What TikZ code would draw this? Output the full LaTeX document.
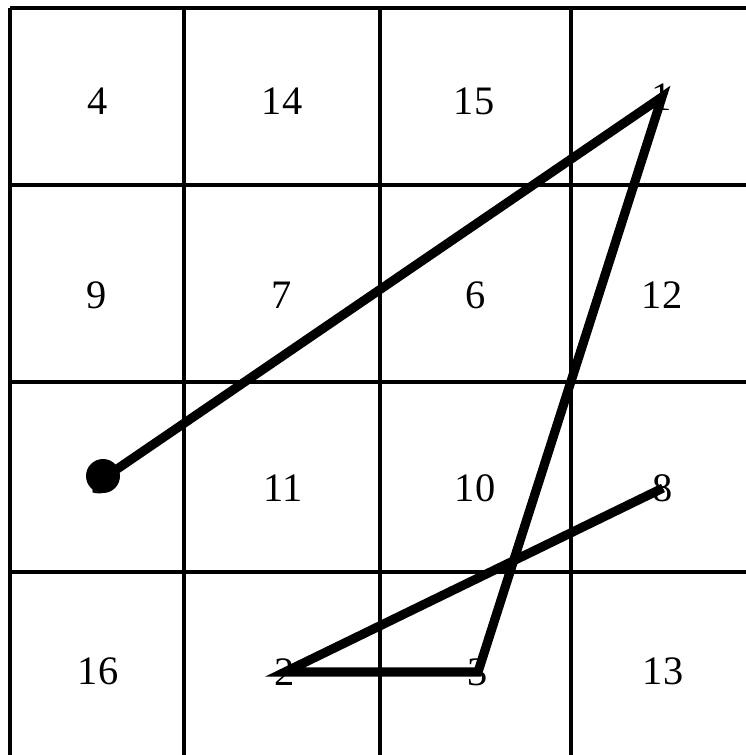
\documentclass[tikz,border=0pt]{standalone}
\usepackage{fontspec}
\setmainfont{Liberation Serif}
\begin{document}
\begin{tikzpicture}[x=0.02cm, y=-0.02cm,
  num/.style={font=\fontsize{23}{26}\selectfont, inner sep=0pt},
  gridline/.style={line width=2.2pt},
  tour/.style={line width=5.2pt}]
  \useasboundingbox (0,0) rectangle (746,755);
  \clip (0,0) rectangle (746,755);

  % the 4x4 grid (cut off at right and bottom)
  \foreach \gx in {10,184,380,571}
    \draw[gridline] (\gx,8) -- (\gx,780);
  \foreach \gy in {8,185,382,572}
    \draw[gridline] (10,\gy) -- (780,\gy);

  % numbers of the square
  \foreach \v/\cx/\cy in {4/98/101, 14/282/101, 15/474/101, 1/662/97,
                          9/97/295, 7/282/295, 6/476/295, 12/662/295,
                          5/101/480, 11/283/488, 10/475/488, 8/663/488,
                          16/98/671, 2/285/672, 3/478/672, 13/663/671}
    \node[num] (n\v) at (\cx,\cy) {\v};

  % the path through the numbers
  \draw[tour] (n5.center) -- (n1.center) -- (n3.center)
              -- (n2.center) -- (n8.center);
  \fill (n5.center) ++(2,-4) circle (17);
\end{tikzpicture}
\end{document}
